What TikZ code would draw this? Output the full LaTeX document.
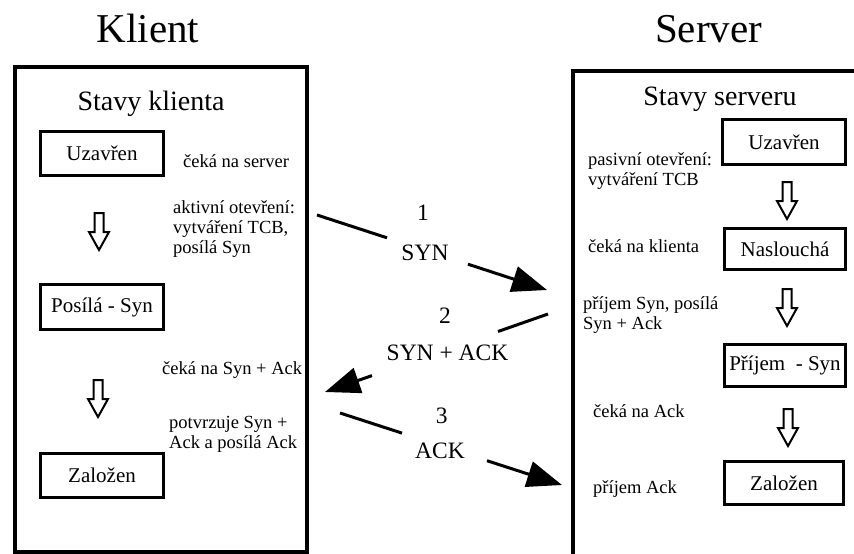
\documentclass[tikz,border=0pt]{standalone}
\usepackage{fontspec}
\setmainfont{Liberation Serif}
\usetikzlibrary{arrows.meta}

\tikzset{
  frame/.style={draw, line width=4pt},
  statebox/.style={draw, line width=2.6pt, inner sep=0pt,
    font=\fontsize{21}{24}\selectfont},
  % multi-line notes sit on the baseline of their last line
  note/.style={anchor=base west, inner sep=0pt, align=left,
    font=\fontsize{18.5}{20}\selectfont},
  heading/.style={anchor=base, inner sep=0pt, font=\fontsize{28}{32}\selectfont},
  sidetitle/.style={anchor=base, inner sep=0pt, font=\fontsize{41}{46}\selectfont},
  msglbl/.style={anchor=base, inner sep=0pt, font=\fontsize{23.5}{26}\selectfont},
  msg/.style={line width=3pt},
  msgtip/.style={line width=3pt, -{Triangle[length=35pt,width=26pt]}},
  hollowdown/.pic={
    \draw[line width=2pt, line join=miter]
      (-4.5,0) -- (4.5,0) -- (4.5,19) -- (10,19) -- (0,37)
      -- (-10,19) -- (-4.5,19) -- cycle;
  }
}

\begin{document}
\begin{tikzpicture}[x=1pt, y=-1pt]
  \useasboundingbox (0,0) rectangle (854,554);

  % side titles
  \node[sidetitle] (tK) at (148,42.7) {Klient};
  \node[sidetitle] (tS) at (708.5,42.7) {Server};

  % client frame
  \draw[frame] (15,67) rectangle (307,552);
  % server frame (runs off the right and bottom edges)
  \draw[frame] (856,71) -- (573,71) -- (573,556);

  % client states
  \node[heading] (hK) at (151,110.7) {Stavy klienta};
  \node[statebox, minimum width=123pt, minimum height=44pt] (cU) at (102,153.5) {Uzavřen};
  \node[statebox, minimum width=123pt, minimum height=45pt] (cP) at (102,307) {Posílá - Syn};
  \node[statebox, minimum width=123pt, minimum height=44pt] (cZ) at (102,475.5) {Založen};
  \pic (cA1) at (99,213) {hollowdown};
  \pic (cA2) at (98,380) {hollowdown};

  \node[note] (n1) at (183,167) {čeká na server};
  \node[note] (n2) at (173,253) {aktivní otevření:\\vytváření TCB,\\posílá Syn};
  \node[note] (n3) at (162,374) {čeká na Syn + Ack};
  \node[note] (n4) at (169,448) {potvrzuje Syn +\\Ack a posílá Ack};

  % server states
  \node[heading] (hS) at (720,105) {Stavy serveru};
  \node[statebox, minimum width=123pt, minimum height=45pt] (sU) at (784,142) {Uzavřen};
  \node[statebox, minimum width=121pt, minimum height=41pt] (sN) at (785,249) {Naslouchá};
  \node[statebox, minimum width=121pt, minimum height=42pt] (sP) at (785,365.5) {Příjem\ \ - Syn};
  \node[statebox, minimum width=119pt, minimum height=43pt] (sZ) at (784,483) {Založen};
  \pic (sA1) at (787,182) {hollowdown};
  \pic (sA2) at (787,289) {hollowdown};
  \pic (sA3) at (788,409) {hollowdown};

  \node[note] (m1) at (588,185) {pasivní otevření:\\vytváření TCB};
  \node[note] (m2) at (588,252) {čeká na klienta};
  \node[note] (m3) at (583,329) {příjem Syn, posílá\\Syn + Ack};
  \node[note] (m4) at (593,417) {čeká na Ack};
  \node[note] (m5) at (593,493) {příjem Ack};

  % message 1: SYN
  \coordinate (a1s) at (317,215);
  \coordinate (a1m) at (387,237.8);
  \coordinate (a1n) at (468,264.2);
  \coordinate (a1e) at (547,290);
  \draw[msg] (a1s) -- (a1m);
  \draw[msgtip] (a1n) -- (a1e);
  \node[msglbl] (l1) at (423,220) {1};
  \node[msglbl] (l1b) at (425,260) {SYN};

  % message 2: SYN + ACK
  \coordinate (a2s) at (548,314);
  \coordinate (a2m) at (498,331.5);
  \coordinate (a2n) at (372,375.6);
  \coordinate (a2e) at (325,392);
  \draw[msg] (a2s) -- (a2m);
  \draw[msgtip] (a2n) -- (a2e);
  \node[msglbl] (l2) at (445,323.3) {2};
  \node[msglbl] (l2b) at (447.5,360.7) {SYN + ACK};

  % message 3: ACK
  \coordinate (a3s) at (340,413);
  \coordinate (a3m) at (402,433.1);
  \coordinate (a3n) at (487,460.7);
  \coordinate (a3e) at (562,485);
  \draw[msg] (a3s) -- (a3m);
  \draw[msgtip] (a3n) -- (a3e);
  \node[msglbl] (l3) at (441.7,423.3) {3};
  \node[msglbl] (l3b) at (440,458.3) {ACK};
\end{tikzpicture}
\end{document}
